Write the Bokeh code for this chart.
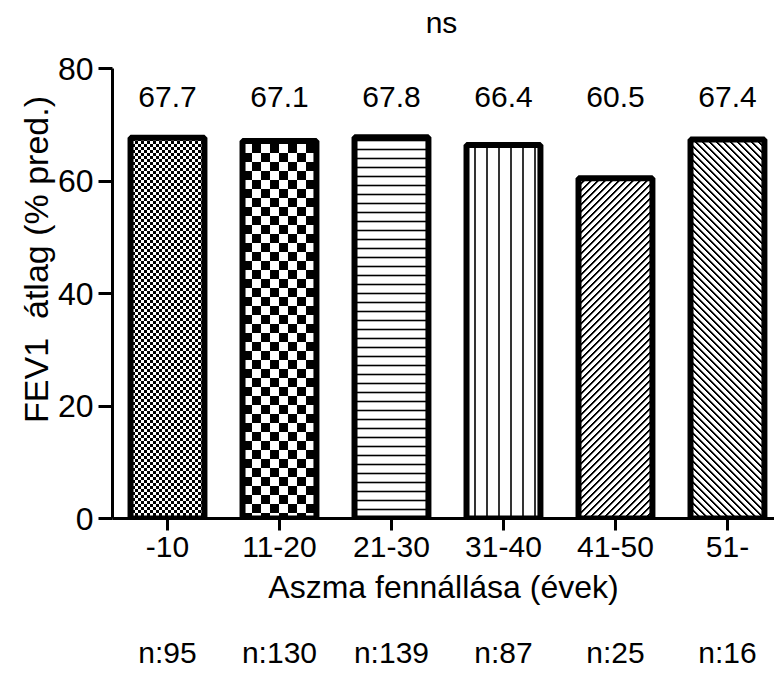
import zlib, struct, base64
from bokeh.plotting import figure
from bokeh.models import (ColumnDataSource, Range1d, FixedTicker, LinearAxis,
                          ImageURLTexture)
from bokeh.core.properties import value
from bokeh.embed import file_html
from bokeh.resources import INLINE

# ---- data ----
categories = ["-10", "11-20", "21-30", "31-40", "41-50", "51-"]
fev1_mean = [67.7, 67.1, 67.8, 66.4, 60.5, 67.4]
n_counts = [95, 130, 139, 87, 25, 16]
y_ticks = [0, 20, 40, 60, 80]
title_text = "ns"
x_label = "Aszma fennállása (évek)"
y_label = "FEV1\u00a0 átlag (% pred.)"

FONT = "Liberation Sans"
FS = "30px"
FS_YTICK = "32px"
FS_XTITLE = "32px"
FS_YTITLE = "34px"

Y_MAX = 80          # top of the value axis
Y_VIEW = 92.09      # visible range incl. room for the title above the axis


def png_uri(rows):
    h = len(rows)
    w = len(rows[0])
    raw = b"".join(b"\x00" + bytes(r) for r in rows)

    def chunk(t, d):
        c = struct.pack(">I", len(d)) + t + d
        return c + struct.pack(">I", zlib.crc32(t + d) & 0xffffffff)

    png = (b"\x89PNG\r\n\x1a\n"
           + chunk(b"IHDR", struct.pack(">IIBBBBB", w, h, 8, 0, 0, 0, 0))
           + chunk(b"IDAT", zlib.compress(raw))
           + chunk(b"IEND", b""))
    return "data:image/png;base64," + base64.b64encode(png).decode()


def checker(cell):
    n = 2 * cell
    return [[0 if ((x // cell) + (y // cell)) % 2 == 0 else 255 for x in range(n)]
            for y in range(n)]


def diagonal(period, forward):
    shade = {0: 0, 1: 0, 2: 150}
    rows = []
    for y in range(period):
        row = []
        for x in range(period):
            d = (x + y) % period if forward else (x - y) % period
            row.append(shade.get(d, 255))
        rows.append(row)
    return rows


tex_fine = ImageURLTexture(url=png_uri(checker(3)), repetition="repeat")
tex_coarse = ImageURLTexture(url=png_uri(checker(9)), repetition="repeat")
tex_fwd = ImageURLTexture(url=png_uri(diagonal(7, True)), repetition="repeat")
tex_bwd = ImageURLTexture(url=png_uri(diagonal(7, False)), repetition="repeat")

idx = list(range(len(categories)))
patterns = ["fine", "coarse", "horizontal_line", "vertical_line", "fwd", "bwd"]
scales = [6, 18, 9, 12, 7, 7]
weights = [1, 1, 1.6, 1.6, 1, 1]

src = ColumnDataSource(dict(
    x=idx, top=fev1_mean,
    label=[f"{v:.1f}" for v in fev1_mean],
    pat=patterns, hs=scales, hw=weights,
))

p = figure(width=774, height=694, output_backend="svg", toolbar_location=None,
           x_range=Range1d(-0.491, 5.42), y_range=Range1d(0, Y_VIEW),
           min_border_left=112, min_border_right=0, min_border_top=0,
           min_border_bottom=176)
p.background_fill_color = "white"
p.border_fill_color = "white"
p.outline_line_color = None
p.grid.visible = False

p.vbar(x="x", top="top", bottom=0, width=0.66, source=src,
       fill_color="white", line_color="black", line_width=6,
       hatch_pattern="pat", hatch_scale="hs", hatch_weight="hw",
       hatch_color="black",
       hatch_extra={"fine": tex_fine, "coarse": tex_coarse,
                    "fwd": tex_fwd, "bwd": tex_bwd})

p.text(x="x", y=75, text="label", source=src, text_align="center",
       text_baseline="middle", text_font=value(FONT), text_font_size=FS,
       text_color="black")

# title "ns" above the axis, centred over the categories
p.text(x=[sum(idx) / len(idx)], y=[88.2], text=[title_text], x_offset=-6,
       text_align="center", text_baseline="middle", text_font=value(FONT),
       text_font_size=FS, text_color="black")

# x axis
xa = p.xaxis[0]
xa.ticker = FixedTicker(ticks=idx)
xa.major_label_overrides = {i: c for i, c in zip(idx, categories)}
xa.minor_tick_line_color = None
xa.major_tick_in = 0
xa.major_tick_out = 12
xa.axis_line_width = 3
xa.major_tick_line_width = 3
xa.major_label_text_font = FONT
xa.major_label_text_font_size = FS
xa.major_label_text_color = "black"
xa.major_label_standoff = 6
xa.axis_label = x_label
xa.axis_label_text_font = FONT
xa.axis_label_text_font_size = FS_XTITLE
xa.axis_label_text_font_style = "normal"
xa.axis_label_text_color = "black"
xa.axis_label_standoff = 9

# n-count axis
na = LinearAxis(ticker=FixedTicker(ticks=idx),
                major_label_overrides={i: f"n:{n}" for i, n in zip(idx, n_counts)})
na.axis_line_color = None
na.major_tick_line_color = None
na.minor_tick_line_color = None
na.major_label_text_font = FONT
na.major_label_text_font_size = FS
na.major_label_text_color = "black"
na.major_label_standoff = 22
p.add_layout(na, "below")

# y axis
ya = p.yaxis[0]
ya.ticker = FixedTicker(ticks=y_ticks)
ya.bounds = (0, Y_MAX)
ya.minor_tick_line_color = None
ya.major_tick_in = 0
ya.major_tick_out = 14
ya.axis_line_width = 3
ya.major_tick_line_width = 3
ya.major_label_text_font = FONT
ya.major_label_text_font_size = FS_YTICK
ya.major_label_text_color = "black"
ya.major_label_standoff = 5
ya.axis_label = y_label
ya.axis_label_text_font = FONT
ya.axis_label_text_font_size = FS_YTITLE
ya.axis_label_text_font_style = "normal"
ya.axis_label_text_color = "black"
ya.axis_label_standoff = 0

open("out.html", "w").write(file_html(p, INLINE))
